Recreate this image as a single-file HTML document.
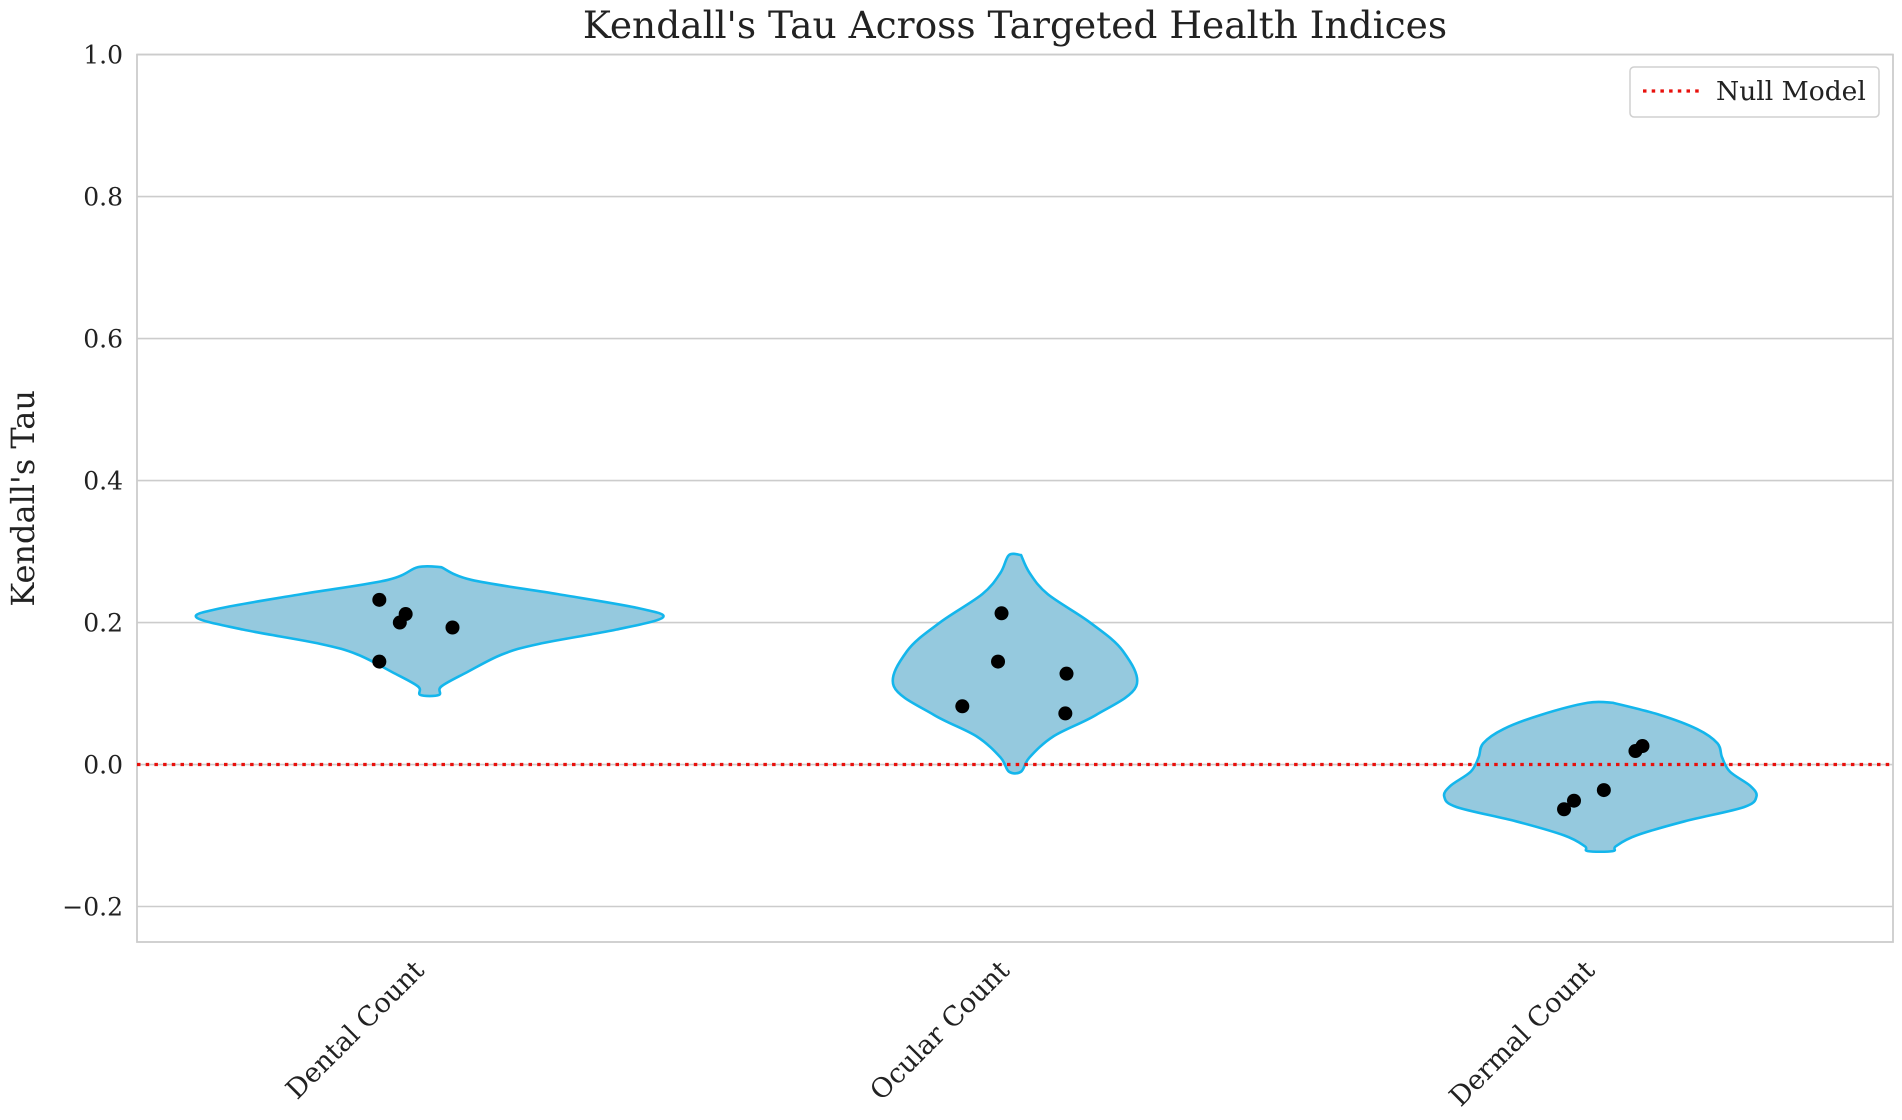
<!DOCTYPE html>
<html><head><meta charset="utf-8">
<style>
html,body{margin:0;padding:0;background:#fff;}
svg{display:block;font-family:"DejaVu Serif","Liberation Serif",serif;}
</style></head>
<body>
<svg id="chart" width="1902" height="1120" viewBox="0 0 1902 1120"></svg>
<script>
const categories = ["Dental Count","Ocular Count","Dermal Count"];
const yTicks = [-0.2,0.0,0.2,0.4,0.6,0.8,1.0];
const yTickLabels = ["\u22120.2","0.0","0.2","0.4","0.6","0.8","1.0"];
const nullValue = 0.0;
const dentalPts = [0.232,0.212,0.200,0.193,0.145];
const ocularPts = [0.213,0.145,0.128,0.082,0.072];
const dermalPts = [0.026,0.019,-0.036,-0.051,-0.063];
const dentalJitter = [-0.086,-0.041,-0.051,0.039,-0.086];
const ocularJitter = [-0.023,-0.029,0.088,-0.090,0.086];
const dermalJitter = [0.072,0.060,0.006,-0.045,-0.062];
const dentalVals = [0.278,0.26,0.24,0.22,0.207,0.19,0.17,0.155,0.13,0.11,0.098];
const dentalDens = [0.05,0.18,0.55,0.9,1.0,0.8,0.47,0.31,0.16,0.05,0.04];
const ocularVals = [0.295,0.27,0.24,0.2,0.16,0.11,0.07,0.04,0.01,-0.01];
const ocularDens = [0.05,0.12,0.27,0.62,0.89,1.0,0.67,0.32,0.12,0.05];
const dermalVals = [0.087,0.07,0.05,0.03,0.01,-0.01,-0.03,-0.045,-0.06,-0.08,-0.10,-0.115,-0.122];
const dermalDens = [0.08,0.38,0.62,0.75,0.78,0.83,0.96,1.0,0.92,0.54,0.23,0.1,0.08];
const maxDensity = [1.0,0.52,0.67];

const ptsAll=[dentalPts,ocularPts,dermalPts], jitAll=[dentalJitter,ocularJitter,dermalJitter];
const valsAll=[dentalVals,ocularVals,dermalVals], densAll=[dentalDens,ocularDens,dermalDens];

const L=137,R=1893,T=54.6,B=942,ymin=-0.25,ymax=1.0;
const band=(R-L)/categories.length, maxHalf=233;
const y=v=>T+(ymax-v)/(ymax-ymin)*(B-T);
const x=i=>L+band*(i+0.5);
const NS="http://www.w3.org/2000/svg";
const svg=document.getElementById('chart');
function mk(t,a,p){const e=document.createElementNS(NS,t);for(const k in a)e.setAttribute(k,a[k]);(p||svg).appendChild(e);return e;}

yTicks.forEach((v,i)=>{
  const g=mk('line',{x1:L,x2:R,y1:y(v),y2:y(v),stroke:'#cccccc','stroke-width':1.6});
  
  
  const t=mk('text',{x:L-14,y:y(v)+9,'text-anchor':'end','font-size':25,fill:'#222'});
  t.textContent=yTickLabels[i];
  
  
});
const frame=mk('rect',{x:L,y:T,width:R-L,height:B-T,fill:'none',stroke:'#cccccc','stroke-width':1.8});



function smooth(p){let d='M'+p[0][0]+','+p[0][1];for(let i=0;i<p.length-1;i++){const p0=p[Math.max(i-1,0)],p1=p[i],p2=p[i+1],p3=p[Math.min(i+2,p.length-1)];
 d+=' C'+(p1[0]+(p2[0]-p0[0])/6)+','+(p1[1]+(p2[1]-p0[1])/6)+' '+(p2[0]-(p3[0]-p1[0])/6)+','+(p2[1]-(p3[1]-p1[1])/6)+' '+p2[0]+','+p2[1];}return d;}

categories.forEach((c,i)=>{
  const cx=x(i),vals=valsAll[i],dens=densAll[i];
  const right=vals.map((v,k)=>[cx+dens[k]*maxDensity[i]*maxHalf,y(v)]);
  const left=vals.map((v,k)=>[cx-dens[k]*maxDensity[i]*maxHalf,y(v)]).reverse();
  const pts=right.concat(left); pts.push(right[0]);
  const p=mk('path',{d:smooth(pts)+'Z',fill:'#95c9de',stroke:'#14b6ec','stroke-width':2.6,'stroke-linejoin':'round'});
  
  
  const lab=mk('text',{transform:'translate('+(cx-4)+','+(B+30)+') rotate(-45)','text-anchor':'end','font-size':27,fill:'#222'});
  lab.textContent=c;
  
  
});

const nl=mk('line',{x1:L,x2:R,y1:y(nullValue),y2:y(nullValue),stroke:'#e8100c','stroke-width':3.2,'stroke-dasharray':'3.5 5.2'});



categories.forEach((c,i)=>{
  ptsAll[i].forEach((v,k)=>{
    const d=mk('circle',{cx:x(i)+jitAll[i][k]*band,cy:y(v),r:7,fill:'#000'});
    
    
  });
});

const title=mk('text',{x:(L+R)/2,y:38,'text-anchor':'middle','font-size':37.5,fill:'#222'});
title.textContent="Kendall's Tau Across Targeted Health Indices";


const yl=mk('text',{transform:'translate(34,'+((T+B)/2)+') rotate(-90)','text-anchor':'middle','font-size':32,fill:'#222'});
yl.textContent="Kendall's Tau";



const lg=mk('g',{});


mk('rect',{x:1630,y:67,width:249,height:50,rx:4,fill:'#fff',stroke:'#d0d0d0','stroke-width':1.5},lg);
mk('line',{x1:1643,x2:1700,y1:91,y2:91,stroke:'#e8100c','stroke-width':3.2,'stroke-dasharray':'3.5 5.2'},lg);
const lt=mk('text',{x:1716,y:100,'font-size':26.5,fill:'#222'},lg);
lt.textContent='Null Model';


</script>
</body></html>
